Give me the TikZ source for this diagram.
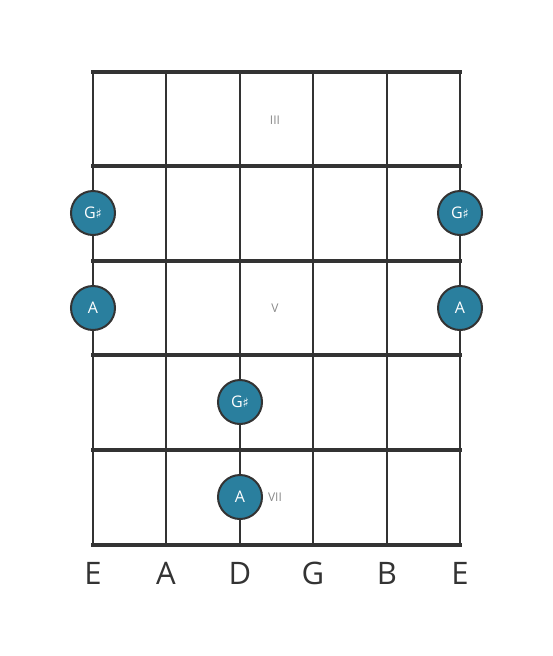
\documentclass[tikz,border=0pt]{standalone}
\usepackage{fontspec}
\setmainfont{Open Sans}
\newfontfamily\symfont{DejaVu Sans}
\usetikzlibrary{positioning}

\definecolor{dotblue}{HTML}{2A7F9E}
\definecolor{gridgray}{HTML}{333333}
\definecolor{labelgray}{HTML}{8A8A8A}

\newcommand{\shp}{{\symfont\fontsize{13}{13}\selectfont ♯}}

\tikzset{
    fret/.style={line width=4pt, color=gridgray},
    strng/.style={line width=2.5pt, color=gridgray},
    notedot/.style={circle, draw=gridgray, line width=2pt, fill=dotblue, text=white,
        minimum size=44pt, inner sep=0pt, font=\fontsize{16}{16}\selectfont},
    posmark/.style={text=labelgray, font=\fontsize{12}{12}\selectfont},
    strname/.style={text=gridgray, font=\fontsize{31}{31}\selectfont}
}

\begin{document}
\begin{tikzpicture}[x=1pt, y=-1pt]

    \useasboundingbox (0,0) rectangle (553,656);

    % strings
    \draw[strng] (93,72)  -- (93,545);
    \draw[strng] (166,72) -- (166,545);
    \draw[strng] (240,72) -- (240,545);
    \draw[strng] (313,72) -- (313,545);
    \draw[strng] (387,72) -- (387,545);
    \draw[strng] (460,72) -- (460,545);

    % frets
    \draw[fret] (91,72)  -- (462,72);
    \draw[fret] (91,166) -- (462,166);
    \draw[fret] (91,261) -- (462,261);
    \draw[fret] (91,355) -- (462,355);
    \draw[fret] (91,450) -- (462,450);
    \draw[fret] (91,545) -- (462,545);

    % position marks
    \node[posmark] (pIII) at (275,120) {III};
    \node[posmark] (pV)   at (275,308) {V};
    \node[posmark] (pVII) at (275,497) {VII};

    % notes
    \node[notedot] (gsA) at (93,213)  {G\shp};
    \node[notedot] (gsB) at (460,213) {G\shp};
    \node[notedot] (aA)  at (93,308)  {A};
    \node[notedot] (aB)  at (460,308) {A};
    \node[notedot] (gsC) at (240,402) {G\shp};
    \node[notedot] (aC)  at (240,497) {A};

    % string names
    \node[strname] (sE)  at (93,573)  {E};
    \node[strname] (sA)  at (166,573) {A};
    \node[strname] (sD)  at (240,573) {D};
    \node[strname] (sG)  at (313,573) {G};
    \node[strname] (sB)  at (387,573) {B};
    \node[strname] (sE2) at (460,573) {E};

\end{tikzpicture}
\end{document}
